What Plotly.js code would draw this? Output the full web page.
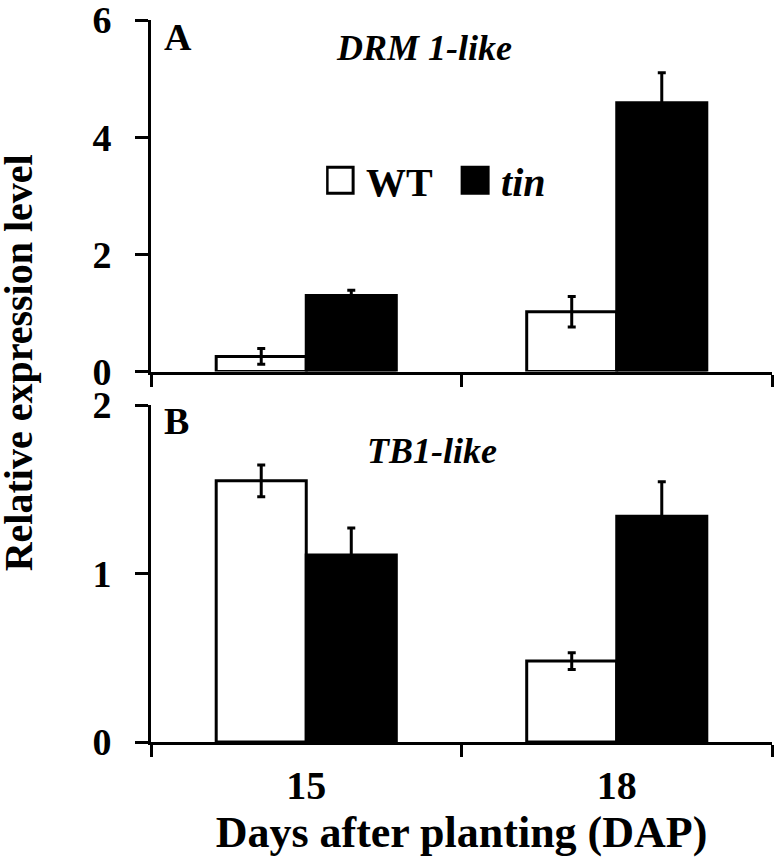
<!DOCTYPE html>
<html>
<head>
<meta charset="utf-8">
<script src="https://cdn.plot.ly/plotly-3.0.1.min.js"></script>
<style>
html, body { margin: 0; padding: 0; background: #fff; }
#chart { width: 775px; height: 860px; }
</style>
</head>
<body>
<div id="chart"></div>
<script>
// ---- data ----
const days = ['15', '18'];
const seriesNames = ['WT', '<i>tin</i>'];
// Panel A: DRM 1-like
const drmWT = [0.26, 1.02];
const drmWTErr = [0.135, 0.26];
const drmTin = [1.30, 4.59];
const drmTinErr = [0.09, 0.51];
// Panel B: TB1-like
const tb1WT = [1.55, 0.48];
const tb1WTErr = [0.094, 0.049];
const tb1Tin = [1.11, 1.34];
const tb1TinErr = [0.16, 0.205];
// tick values
const topTicks = [0, 2, 4, 6];
const bottomTicks = [0, 1, 2];

const SERIF = '"Liberation Serif", "Times New Roman", Times, serif';

function barTrace(name, y, err, fill, xa, ya, show) {
  return {
    type: 'bar', name: name, x: days, y: y, xaxis: xa, yaxis: ya,
    marker: { color: fill, line: { color: '#000', width: 3 } },
    error_y: { type: 'data', array: err, visible: true, color: '#000', thickness: 3, width: 4 },
    showlegend: show, legendgroup: name, hoverinfo: 'skip'
  };
}

const data = [
  barTrace(seriesNames[0], drmWT, drmWTErr, '#ffffff', 'x2', 'y', true),
  barTrace(seriesNames[1], drmTin, drmTinErr, '#000000', 'x2', 'y', true),
  barTrace(seriesNames[0], tb1WT, tb1WTErr, '#ffffff', 'x', 'y2', false),
  barTrace(seriesNames[1], tb1Tin, tb1TinErr, '#000000', 'x', 'y2', false)
];

const yCommon = {
  showline: true, linecolor: '#000', linewidth: 3,
  ticks: 'outside', ticklen: 13, tickwidth: 3, tickcolor: '#000',
  tickfont: { family: SERIF, size: 38, weight: 'bold', color: '#000' },
  ticklabelstandoff: 16, ticklabeloverflow: 'allow',
  showgrid: false, zeroline: false, fixedrange: true
};
const xCommon = {
  type: 'category', range: [-0.5, 1.5],
  showline: true, linecolor: '#000', linewidth: 3,
  ticks: 'outside', tickson: 'boundaries', ticklen: 12, tickwidth: 3, tickcolor: '#000',
  showgrid: false, zeroline: false, fixedrange: true
};

const layout = {
  width: 775, height: 860,
  margin: { l: 151, r: 3, t: 20, b: 118 },
  paper_bgcolor: '#fff', plot_bgcolor: '#fff',
  font: { family: SERIF, color: '#000', size: 38 },
  barmode: 'group', bargap: 0.42, bargroupgap: 0,
  showlegend: true,
  legend: {
    orientation: 'h', x: 0.282, y: 0.778, xanchor: 'left', yanchor: 'middle',
    font: { family: SERIF, size: 40, weight: 'bold', color: '#000' },
    bgcolor: 'rgba(0,0,0,0)', traceorder: 'normal', entrywidth: 90, entrywidthmode: 'pixels'
  },
  xaxis: Object.assign({}, xCommon, {
    domain: [0, 1], anchor: 'y2',
    tickfont: { family: SERIF, size: 40, weight: 'bold', color: '#000' },
    ticklabelstandoff: 6,
    title: { text: 'Days after planting (DAP)', font: { family: SERIF, size: 44, weight: 'bold', color: '#000' }, standoff: 8 }
  }),
  xaxis2: Object.assign({}, xCommon, { domain: [0, 1], anchor: 'y', matches: 'x', showticklabels: false }),
  yaxis: Object.assign({}, yCommon, { domain: [0.513, 1], anchor: 'x2', range: [0, 6.0005], tickvals: topTicks }),
  yaxis2: Object.assign({}, yCommon, { domain: [0, 0.4668], anchor: 'x', range: [0, 2.0002], tickvals: bottomTicks }),
  annotations: [
    { text: 'A', xref: 'paper', yref: 'paper', x: 0.0177, y: 0.976, xanchor: 'left', yanchor: 'middle', showarrow: false,
      font: { family: SERIF, size: 38, weight: 'bold', color: '#000' } },
    { text: 'DRM 1-like', xref: 'paper', yref: 'paper', x: 0.4404, y: 0.961, xanchor: 'center', yanchor: 'middle', showarrow: false,
      font: { family: SERIF, size: 36, weight: 'bold', style: 'italic', color: '#000' } },
    { text: 'B', xref: 'paper', yref: 'paper', x: 0.0177, y: 0.445, xanchor: 'left', yanchor: 'middle', showarrow: false,
      font: { family: SERIF, size: 38, weight: 'bold', color: '#000' } },
    { text: 'TB1-like', xref: 'paper', yref: 'paper', x: 0.452, y: 0.4024, xanchor: 'center', yanchor: 'middle', showarrow: false,
      font: { family: SERIF, size: 36, weight: 'bold', style: 'italic', color: '#000' } },
    { text: 'Relative expression level', xref: 'paper', yref: 'paper', x: -0.212, y: 0.525, xanchor: 'center', yanchor: 'middle',
      textangle: -90, showarrow: false, font: { family: SERIF, size: 40, weight: 'bold', color: '#000' } }
  ]
};

Plotly.newPlot('chart', data, layout, { displayModeBar: false, staticPlot: true }).then(function () {
  // enlarge legend swatches to match the reference
  document.querySelectorAll('.legend .legendpoints path').forEach(function (p) {
    p.setAttribute('d', 'M7,13H-19V-13H7Z');
    p.style.strokeWidth = '3px';
  });
});
</script>
</body>
</html>
